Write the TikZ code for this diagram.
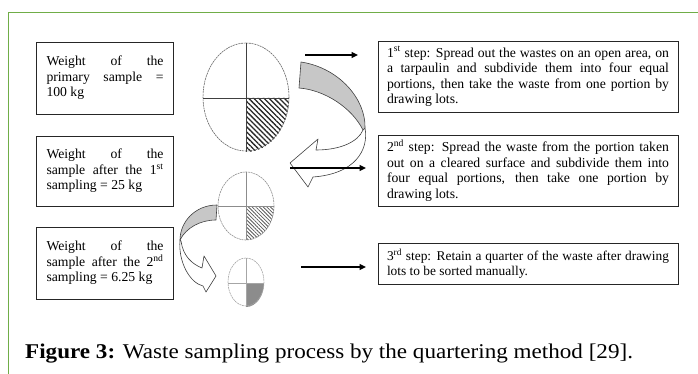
\documentclass[tikz,border=0pt]{standalone}
\usepackage{fontspec}
\usepackage{graphicx}
\setmainfont{Liberation Serif}
\usetikzlibrary{patterns.meta,arrows.meta}
\definecolor{framegreen}{RGB}{112,173,71}
\hyphenpenalty=10000
\exhyphenpenalty=10000
\hbadness=10000
\tolerance=10000
\begin{document}
\begin{tikzpicture}[x=1pt,y=-1pt,
  lbox/.style={draw=black!85, line width=0.8pt, text width=117pt, inner xsep=10pt,
    inner ysep=2pt, align=justify, minimum height=72pt,
    font=\fontsize{13.7}{15.5}\selectfont},
  rbox/.style={draw=black!85, line width=0.8pt, text width=282pt, inner xsep=9pt,
    inner ysep=2pt, align=justify,
    font=\fontsize{13.7}{15.5}\selectfont},
  ell/.style={draw=black!60, line width=0.6pt, dash pattern=on 2pt off 0.7pt},
  arrowline/.style={draw=black!75, line width=0.6pt, line join=round},
  bandfill/.style={fill=black!22},
  straightarrow/.style={line width=1.5pt, -{Triangle[length=6.5pt,width=6pt]}}
]
\useasboundingbox (0,0) rectangle (698,374);
% frame
\draw[framegreen, line width=1.5pt] (8.5,374) -- (8.5,12.5) -- (698,12.5);

% left boxes
\node[lbox] (w1) at (105,78) {Weight of the\linebreak primary sample =\linebreak 100 kg};
\node[lbox, minimum height=70pt] (w2) at (105,171) {Weight of the\linebreak sample after the 1\textsuperscript{st}\linebreak sampling = 25 kg};
\node[lbox] (w3) at (105,263) {Weight of the\linebreak sample after the 2\textsuperscript{nd}\linebreak sampling = 6.25 kg};

% right boxes
\node[rbox, minimum height=71pt] (s1) at (528,76.5) {1\textsuperscript{st} step: Spread out the wastes on an open area, on\linebreak a tarpaulin and subdivide them into four equal\linebreak portions, then take the waste from one portion by\linebreak drawing lots.};
\node[rbox, minimum height=71pt] (s2) at (528,170.5) {2\textsuperscript{nd} step: Spread the waste from the portion taken\linebreak out on a cleared surface and subdivide them into\linebreak four equal portions, then take one portion by\linebreak drawing lots.};
\node[rbox, minimum height=41pt, font=\fontsize{13.4}{14.5}\selectfont] (s3) at (528,263.5) {3\textsuperscript{rd} step: Retain a quarter of the waste after drawing\linebreak lots to be sorted manually.};

% big ellipse
\fill[pattern={Lines[angle=-45,distance=3.6pt,line width=1.3pt]}, pattern color=black!85]
  (246,98) -- (289,98) arc[start angle=0,end angle=90,x radius=43,y radius=54] -- cycle;
\draw[ell] (246,97) ellipse [x radius=43, y radius=54];
\draw[black!75, line width=0.9pt] (246,43) -- (246,151) (203,98) -- (289,98);

% middle ellipse
\fill[pattern={Lines[angle=-45,distance=2.6pt,line width=0.8pt]}, pattern color=black!65]
  (246,206) -- (274,206) arc[start angle=0,end angle=90,x radius=28,y radius=34] -- cycle;
\draw[ell, draw=black!45] (246,206) ellipse [x radius=28, y radius=34];
\draw[black!45, line width=0.9pt] (246,172) -- (246,240) (218,206) -- (274,206);

% small ellipse
\fill[black!45] (246,283) -- (264,283) arc[start angle=0,end angle=90,x radius=18,y radius=24] -- cycle;
\draw[ell, draw=black!35] (246,282) ellipse [x radius=18, y radius=24];
\draw[black!35, line width=0.9pt] (246,258) -- (246,306) (228,283) -- (264,283);

% curved arrow 1
\draw[arrowline, fill=white] (365,128) .. controls (369,150) and (355,174) .. (313,177)
  -- (308,187) -- (290,163) -- (318,139) -- (316,150)
  .. controls (340,150) and (358,142) .. (363,130) -- cycle;
\draw[arrowline, bandfill] (301,62) .. controls (340,68) and (366,100) .. (365,128)
  -- (363,130) .. controls (352,108) and (325,90) .. (299,88) -- cycle;

% curved arrow 2
\draw[arrowline, fill=white] (180,240) .. controls (178,262) and (190,283) .. (203,286)
  -- (206,292) -- (216,276) -- (204,256) -- (202,268)
  .. controls (192,264) and (183,256) .. (181,241) -- cycle;
\draw[arrowline, bandfill] (217,205) .. controls (195,205) and (180,222) .. (180,240)
  .. controls (186,228) and (200,220) .. (216,220) -- cycle;

% straight arrows
\coordinate (a1s) at (305,55);
\coordinate (a1e) at (358,55);
\coordinate (a2s) at (290,168);
\coordinate (a2e) at (366,168);
\coordinate (a3s) at (301,267);
\coordinate (a3e) at (366,267);
\draw[straightarrow] (a1s) -- (a1e);
\draw[straightarrow] (a2s) -- (a2e);
\draw[straightarrow] (a3s) -- (a3e);

% caption
\node[anchor=base west, inner sep=0pt, font=\fontsize{21}{25}\selectfont] (cap) at (25,358)
  {\scalebox{1.1}[1]{\textbf{Figure 3:} Waste sampling process by the quartering method [29].}};
\end{tikzpicture}
\end{document}
